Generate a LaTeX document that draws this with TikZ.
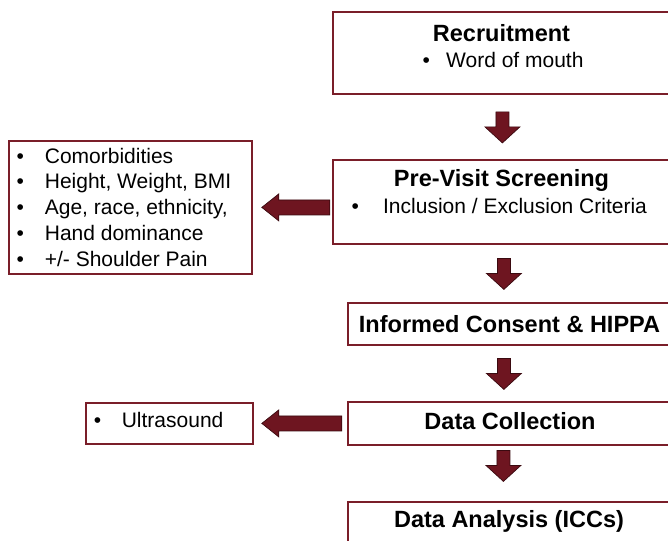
\documentclass[tikz,border=0pt]{standalone}
\usepackage{fontspec}
\setmainfont{Liberation Sans}
\usetikzlibrary{calc}
\definecolor{maroon}{HTML}{7A1E29}
\definecolor{arrowred}{HTML}{6E1520}
\definecolor{arrowedge}{HTML}{3A0A10}

\tikzset{
  box/.style={draw=maroon, line width=1.8pt, fill=white, anchor=north west, inner sep=0pt},
  title/.style={anchor=base, inner sep=0pt, font=\fontsize{23.5}{28}\selectfont\bfseries},
  item/.style={anchor=base west, inner sep=0pt, font=\fontsize{21}{25.75}\selectfont},
  blockarrow/.style={fill=arrowred, draw=arrowedge, line width=0.7pt, line join=miter},
  % block arrow pointing down, centred on the pic origin
  blkdown/.pic={\filldraw[blockarrow] (-6.5,-15) -- (6.5,-15) -- (6.5,0) -- (17.5,0)
      -- (0,16) -- (-17.5,0) -- (-6.5,0) -- cycle;},
  % block arrow pointing left, tip at the pic origin, #1 = total length
  blkleft/.pic={\filldraw[blockarrow] (0,0) -- (17,-13.5) -- (17,-7.5) -- (#1,-7.5)
      -- (#1,7.5) -- (17,7.5) -- (17,13.5) -- cycle;},
}

\begin{document}
\begin{tikzpicture}[x=1pt, y=-1pt]
  \useasboundingbox (0,0) rectangle (668,540);
  \clip (0,0) rectangle (668,540);

  % main column of steps
  \node[box, minimum width=339pt, minimum height=82pt] (rec) at (332,11) {};
  \node[box, minimum width=339pt, minimum height=84pt] (pre) at (332,159) {};
  \node[box, minimum width=326pt, minimum height=42pt] (ic)  at (347,302) {};
  \node[box, minimum width=326pt, minimum height=43pt] (dc)  at (347,401) {};
  \node[box, minimum width=326pt, minimum height=60pt] (da)  at (347,501) {};

  % side boxes
  \node[box, minimum width=243pt, minimum height=133pt] (list) at (8,140) {};
  \node[box, minimum width=167pt, minimum height=41pt]  (us)   at (85,402) {};

  % step texts
  \node[title] (recT) at (501.5,42) {Recruitment};
  \node[item]  (recI) at (422.3,68) {\textbullet\hspace{16.3pt}Word of mouth};
  \node[title] (preT) at (501.5,186) {Pre-Visit Screening};
  \node[item]  (preI) at (351.3,213) {\textbullet\hspace{24.3pt}Inclusion / Exclusion Criteria};
  \node[title] (icT)  at (509.5,332) {Informed Consent \& HIPPA};
  \node[title] (dcT)  at (510,429) {Data Collection};
  \node[title] (daT)  at (509,527) {Data Analysis (ICCs)};

  % side box texts
  \foreach \t [count=\i from 0] in {Comorbidities, {Height, Weight, BMI},
      {Age, race, ethnicity,}, Hand dominance, +/- Shoulder Pain}
    \node[item] (li\i) at (16.3,163+25.75*\i) {\textbullet\hspace{21pt}\t};
  \node[item] (usI) at (93.6,427) {\textbullet\hspace{20.7pt}Ultrasound};

  % block arrows between the steps
  \coordinate (m1) at ($(rec.south)!0.5!(pre.north)$);
  \coordinate (m2) at ($(pre.south)!0.5!(ic.north)$);
  \coordinate (m3) at ($(ic.south)!0.5!(dc.north)$);
  \coordinate (m4) at ($(dc.south)!0.5!(da.north)$);
  \pic at (rec.south |- m1) {blkdown};
  \pic at ($(rec.south |- m2)+(1.5,0)$) {blkdown};
  \pic at ($(rec.south |- m3)+(1.5,0)$) {blkdown};
  \pic at ($(rec.south |- m4)+(1,-8)$) {blkdown};

  % block arrows out to the side boxes
  \pic at ($(list.east)+(9,0)$) {blkleft=68};
  \pic at ($(us.east)+(8,0)$) {blkleft=80};
\end{tikzpicture}
\end{document}
